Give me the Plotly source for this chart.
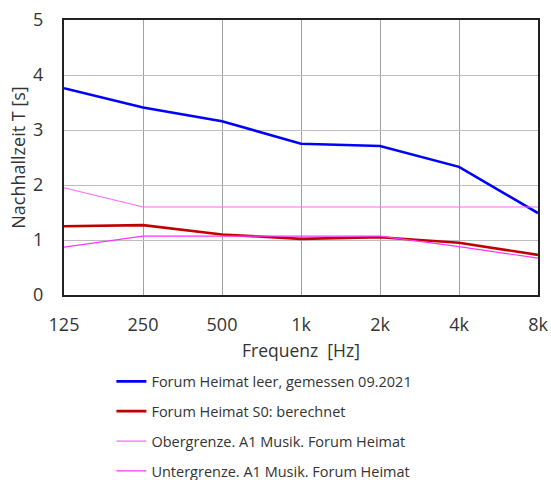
import plotly.graph_objects as go

# Octave-band centre frequencies
freq_labels = ["125", "250", "500", "1k", "2k", "4k", "8k"]

# Reverberation times in seconds
t_measured = [3.76, 3.41, 3.16, 2.75, 2.71, 2.33, 1.49]
t_calculated = [1.25, 1.27, 1.10, 1.02, 1.05, 0.95, 0.73]
t_upper = [1.95, 1.60, 1.60, 1.60, 1.60, 1.60, 1.60]
t_lower = [0.87, 1.07, 1.07, 1.07, 1.07, 0.88, 0.67]

series = [
    ("Forum Heimat leer, gemessen 09.2021", t_measured, "#0000ff", 2.6),
    ("Forum Heimat S0: berechnet", t_calculated, "#c00000", 2.6),
    ("Obergrenze. A1 Musik. Forum Heimat", t_upper, "#ff66ff", 1.2),
    ("Untergrenze. A1 Musik. Forum Heimat", t_lower, "#ff33ff", 1.2),
]

fig = go.Figure()
for i, (name, vals, color, width) in enumerate(series):
    fig.add_trace(go.Scatter(
        x=freq_labels, y=vals, name=name, mode="lines",
        line=dict(color=color, width=width),
        legendgroup=f"g{i}",
    ))

font_family = "Open Sans, Noto Sans, sans-serif"

fig.update_layout(
    width=551, height=480,
    margin=dict(l=64, r=13, t=20, b=185, autoexpand=False),
    paper_bgcolor="white", plot_bgcolor="white",
    font=dict(family=font_family, color="#333333"),
    showlegend=True,
    legend=dict(
        x=0.100, y=-0.256, xanchor="left", yanchor="top",
        font=dict(size=14.5, color="#333333"),
        tracegroupgap=8,
        bgcolor="rgba(0,0,0,0)",
    ),
    xaxis=dict(
        type="category", range=[0, 6],
        showgrid=True, gridcolor="#a0a0a0", gridwidth=1,
        showline=True, linecolor="#222222", linewidth=2, mirror=True,
        ticks="", tickfont=dict(size=18), ticklabelstandoff=12,
        title=dict(text="Frequenz  [Hz]", font=dict(size=17.5), standoff=10),
    ),
    yaxis=dict(
        range=[0, 5], dtick=1,
        showgrid=True, gridcolor="#bdbdbd", gridwidth=1,
        showline=True, linecolor="#222222", linewidth=2, mirror=True,
        zeroline=False,
        ticks="", tickfont=dict(size=18), ticklabelstandoff=15,
        title=dict(text="Nachhallzeit T [s]", font=dict(size=18), standoff=3),
    ),
)

fig.write_html("out.html")
